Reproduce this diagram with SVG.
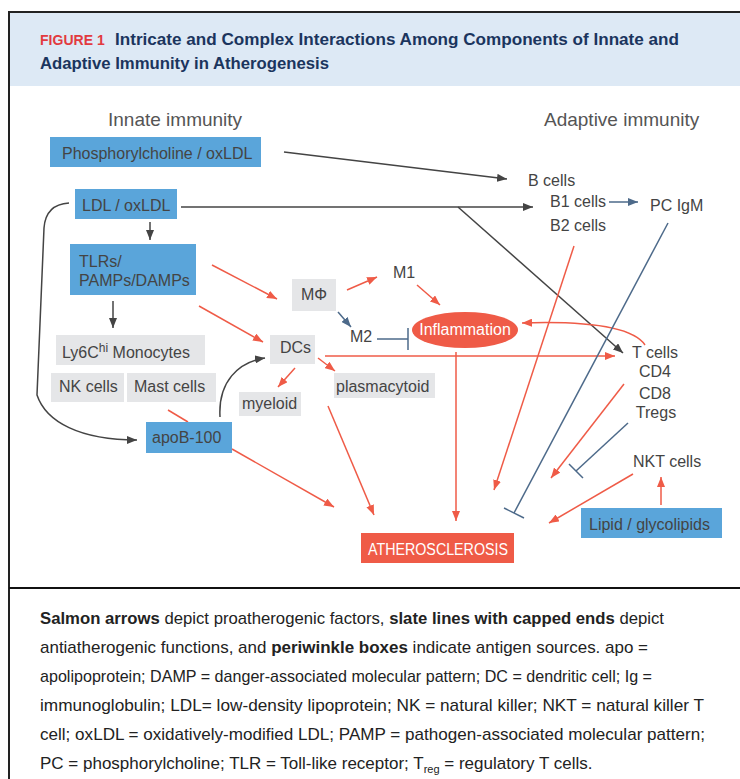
<svg xmlns="http://www.w3.org/2000/svg" width="740" height="779" viewBox="0 0 740 779">
<style>
.t{font-family:"Liberation Sans",Arial,sans-serif;font-size:16px;fill:#444}
.h{font-family:"Liberation Sans",Arial,sans-serif;font-size:19px;fill:#555}
.w{font-family:"Liberation Sans",Arial,sans-serif;font-size:16px;fill:#fff}
.blue{fill:#5aa5da}
.gray{fill:#e5e6e8}
.sal{fill:none;stroke:#ef5b47;stroke-width:1.5}
.dk{fill:none;stroke:#444;stroke-width:1.5}
.sl{fill:none;stroke:#4d6a8a;stroke-width:1.5}
.cap{font-family:"Liberation Sans Narrow","Liberation Sans",Arial,sans-serif;font-size:17px;fill:#222}
.ttl{font-family:"Liberation Sans Narrow","Liberation Sans",Arial,sans-serif;font-size:16px;font-weight:bold;fill:#1b355e}
</style>
<defs>
<marker id="aS" viewBox="0 0 10 8" refX="10" refY="4" markerWidth="10" markerHeight="8" orient="auto" markerUnits="userSpaceOnUse"><path d="M0,0 L10,4 L0,8 z" fill="#ef5b47"/></marker>
<marker id="aD" viewBox="0 0 10 8" refX="10" refY="4" markerWidth="10" markerHeight="8" orient="auto" markerUnits="userSpaceOnUse"><path d="M0,0 L10,4 L0,8 z" fill="#444"/></marker>
<marker id="aL" viewBox="0 0 10 8" refX="10" refY="4" markerWidth="10" markerHeight="8" orient="auto" markerUnits="userSpaceOnUse"><path d="M0,0 L10,4 L0,8 z" fill="#4d6a8a"/></marker>
</defs>
<rect x="0" y="0" width="740" height="779" fill="#fff"/>
<!-- header -->
<rect x="9" y="12" width="731" height="74" fill="#dde9f5"/>
<line x1="9" y1="12" x2="740" y2="12" stroke="#222" stroke-width="2"/>
<line x1="9" y1="11" x2="9" y2="779" stroke="#222" stroke-width="2"/>
<line x1="9" y1="588" x2="740" y2="588" stroke="#111" stroke-width="2"/>
<text x="40" y="45" font-family="Liberation Sans,Arial,sans-serif" font-size="14" font-weight="bold" fill="#e23a3f" letter-spacing="1.2" textLength="66">FIGURE 1</text>
<text class="ttl" x="115" y="45" textLength="564" lengthAdjust="spacingAndGlyphs">Intricate and Complex Interactions Among Components of Innate and</text>
<text class="ttl" x="40" y="69" textLength="289" lengthAdjust="spacingAndGlyphs">Adaptive Immunity in Atherogenesis</text>

<text class="h" x="108" y="126">Innate immunity</text>
<text class="h" x="544" y="126">Adaptive immunity</text>

<!-- connectors -->
<g id="connectors">
<line class="dk" x1="284" y1="152" x2="507" y2="179" marker-end="url(#aD)"/>
<line class="dk" x1="181" y1="207" x2="533" y2="207" marker-end="url(#aD)"/>
<line class="dk" x1="458" y1="207" x2="623" y2="353" marker-end="url(#aD)"/>
<line class="dk" x1="150" y1="222" x2="150" y2="240" marker-end="url(#aD)"/>
<line class="dk" x1="113" y1="301" x2="113" y2="328" marker-end="url(#aD)"/>
<path class="dk" d="M69,203 C52,204 45,214 44,228 L37,395 C46,422 80,440 137,440" marker-end="url(#aD)"/>
<path class="dk" d="M220,417 C218,382 238,362 265,358" marker-end="url(#aD)"/>

<line class="sal" x1="212" y1="265" x2="277" y2="299" marker-end="url(#aS)"/>
<line class="sal" x1="199" y1="306" x2="263" y2="342" marker-end="url(#aS)"/>
<line class="sal" x1="347" y1="290" x2="377" y2="277" marker-end="url(#aS)"/>
<line class="sal" x1="417" y1="285" x2="440" y2="305" marker-end="url(#aS)"/>
<line class="sal" x1="325" y1="356" x2="615" y2="356" marker-end="url(#aS)"/>
<line class="sal" x1="295" y1="368" x2="278" y2="387" marker-end="url(#aS)"/>
<line class="sal" x1="318" y1="358" x2="335" y2="371" marker-end="url(#aS)"/>
<path class="sal" d="M645,345 C632,326 585,321 522,323" marker-end="url(#aS)"/>
<line class="sal" x1="456" y1="352" x2="456" y2="521" marker-end="url(#aS)"/>
<line class="sal" x1="574" y1="246" x2="494" y2="490" marker-end="url(#aS)"/>
<line class="sal" x1="624" y1="384" x2="551" y2="478" marker-end="url(#aS)"/>
<line class="sal" x1="633" y1="474" x2="549" y2="523" marker-end="url(#aS)"/>
<line class="sal" x1="661" y1="505" x2="661" y2="477" marker-end="url(#aS)"/>
<line class="sal" x1="232" y1="449" x2="334" y2="507" marker-end="url(#aS)"/>
<line class="sal" x1="328" y1="406" x2="374" y2="515" marker-end="url(#aS)"/>
<line class="sal" x1="168" y1="410" x2="188" y2="422"/>

<line class="sl" x1="609" y1="202" x2="638" y2="202" marker-end="url(#aL)"/>
<line class="sl" x1="338" y1="312" x2="351" y2="327" marker-end="url(#aL)"/>
<line class="sl" x1="377" y1="339" x2="408" y2="339"/>
<line class="sl" x1="408" y1="328" x2="408" y2="350"/>
<line class="sl" x1="668" y1="223" x2="514" y2="513"/>
<line class="sl" x1="504" y1="508" x2="524" y2="518"/>
<line class="sl" x1="628" y1="423" x2="576" y2="471"/>
<line class="sl" x1="569" y1="464" x2="583" y2="478"/>
</g>

<!-- nodes -->
<g id="phospho"><rect class="blue" x="50" y="137" width="211" height="30"/><text class="t" x="62" y="159">Phosphorylcholine / oxLDL</text></g>
<g id="ldl"><rect class="blue" x="75" y="189" width="102" height="30"/><text class="t" x="82" y="211">LDL / oxLDL</text></g>
<g id="tlrs"><rect class="blue" x="70" y="244" width="126" height="51"/><text class="t" x="79" y="267">TLRs/</text><text class="t" x="79" y="286">PAMPs/DAMPs</text></g>
<g id="ly6c"><rect class="gray" x="56" y="335" width="149" height="30"/><text class="t" x="62" y="358">Ly6C<tspan font-size="12" dy="-6">hi</tspan><tspan dy="6"> Monocytes</tspan></text></g>
<g id="nk"><rect class="gray" x="51" y="373" width="73" height="29"/><text class="t" x="59" y="392">NK cells</text></g>
<g id="mast"><rect class="gray" x="127" y="373" width="89" height="29"/><text class="t" x="134" y="392">Mast cells</text></g>
<g id="apob"><rect class="blue" x="146" y="422" width="86" height="31"/><text class="t" x="152" y="443">apoB-100</text></g>
<g id="mphi"><rect class="gray" x="292" y="279" width="44" height="32"/><text class="t" x="301" y="300">MΦ</text></g>
<g id="dcs"><rect class="gray" x="270" y="335" width="45" height="29"/><text class="t" x="280" y="353">DCs</text></g>
<g id="myeloid"><rect class="gray" x="239" y="392" width="62" height="24"/><text class="t" x="242" y="409">myeloid</text></g>
<g id="plasmacytoid"><rect class="gray" x="334" y="373" width="101" height="25"/><text class="t" x="336" y="392">plasmacytoid</text></g>
<g id="m1"><text class="t" x="393" y="278">M1</text></g>
<g id="m2"><text class="t" x="350" y="342">M2</text></g>
<g id="inflammation"><ellipse cx="465" cy="330" rx="53" ry="18" fill="#ef5b47"/><text class="w" x="465" y="335" text-anchor="middle">Inflammation</text></g>
<g id="bcells"><text class="t" x="528" y="186">B cells</text></g>
<g id="b1"><text class="t" x="550" y="207">B1 cells</text></g>
<g id="b2"><text class="t" x="550" y="231">B2 cells</text></g>
<g id="pcigm"><text class="t" x="650" y="211">PC IgM</text></g>
<g id="tcells"><text class="t" x="655" y="358" text-anchor="middle">T cells</text><text class="t" x="655" y="377" text-anchor="middle">CD4</text><text class="t" x="655" y="399" text-anchor="middle">CD8</text><text class="t" x="656" y="418" text-anchor="middle">Tregs</text></g>
<g id="nkt"><text class="t" x="633" y="467">NKT cells</text></g>
<g id="lipid"><rect class="blue" x="581" y="508" width="141" height="30"/><text class="t" x="589" y="530">Lipid / glycolipids</text></g>
<g id="athero"><rect x="361" y="533" width="153" height="30" fill="#ef5b47"/><text class="w" x="368" y="555" textLength="140" lengthAdjust="spacingAndGlyphs">ATHEROSCLEROSIS</text></g>

<!-- caption -->
<text class="cap" x="40" y="624" textLength="624" lengthAdjust="spacingAndGlyphs"><tspan font-weight="bold">Salmon arrows</tspan> depict proatherogenic factors, <tspan font-weight="bold">slate lines with capped ends</tspan> depict</text>
<text class="cap" x="40" y="653" textLength="608" lengthAdjust="spacingAndGlyphs">antiatherogenic functions, and <tspan font-weight="bold">periwinkle boxes</tspan> indicate antigen sources. apo =</text>
<text class="cap" x="40" y="682" textLength="612" lengthAdjust="spacingAndGlyphs">apolipoprotein; DAMP = danger-associated molecular pattern; DC = dendritic cell; Ig =</text>
<text class="cap" x="40" y="711" textLength="664" lengthAdjust="spacingAndGlyphs">immunoglobulin; LDL= low-density lipoprotein; NK = natural killer; NKT = natural killer T</text>
<text class="cap" x="40" y="740" textLength="665" lengthAdjust="spacingAndGlyphs">cell; oxLDL = oxidatively-modified LDL; PAMP = pathogen-associated molecular pattern;</text>
<text class="cap" x="40" y="769">PC = phosphorylcholine; TLR = Toll-like receptor; T<tspan font-size="11" dy="4">reg</tspan><tspan dy="-4"> = regulatory T cells.</tspan></text>
</svg>
